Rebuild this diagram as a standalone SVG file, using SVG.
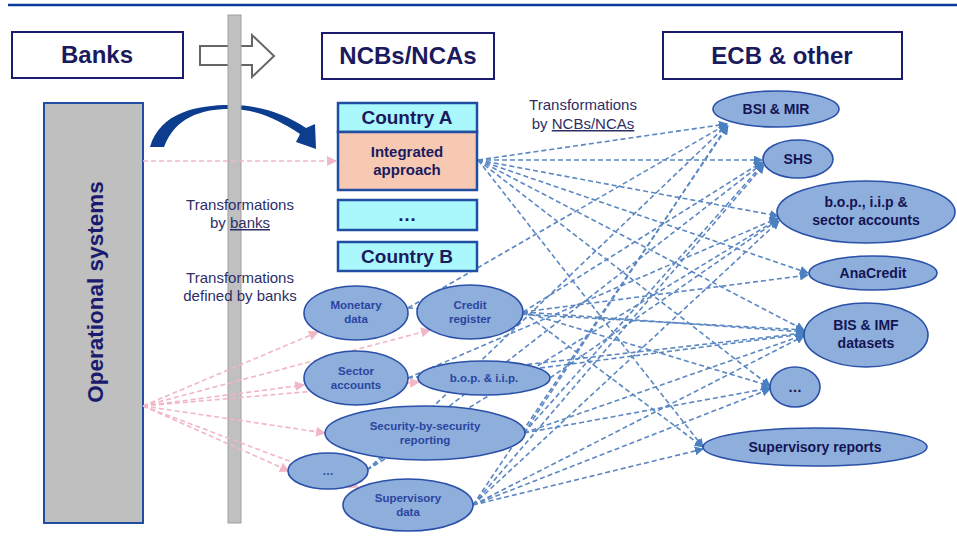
<svg xmlns="http://www.w3.org/2000/svg" width="957" height="538" viewBox="0 0 957 538">
<defs>
<marker id="ab" viewBox="0 0 10 10" refX="9" refY="5" markerWidth="9" markerHeight="9" markerUnits="userSpaceOnUse" orient="auto"><path d="M0,0 L10,5 L0,10 Z" fill="#4a7fc0"/></marker>
<marker id="ap" viewBox="0 0 10 10" refX="9" refY="5" markerWidth="10" markerHeight="10" markerUnits="userSpaceOnUse" orient="auto"><path d="M0,0 L10,5 L0,10 Z" fill="#f2b6c6"/></marker>
<style>
.hd{fill:#fff;stroke:#1a1a6e;stroke-width:2}
.ht{font-family:"Liberation Sans",Arial,sans-serif;font-weight:bold;font-size:24px;fill:#1a1a5e;text-anchor:middle}
.cb{fill:#aaf8fb;stroke:#1f4ea3;stroke-width:2.5}
.ct{font-family:"Liberation Sans",Arial,sans-serif;font-weight:bold;font-size:19px;fill:#1a1a5e;text-anchor:middle}
.el{fill:#8eaedb;stroke:#2a50a8;stroke-width:1.6}
.lt{font-family:"Liberation Sans",Arial,sans-serif;font-weight:bold;font-size:11.5px;fill:#2b45a0;text-anchor:middle}
.rt{font-family:"Liberation Sans",Arial,sans-serif;font-weight:bold;font-size:14px;fill:#141455;text-anchor:middle}
.tr{font-family:"Liberation Sans",Arial,sans-serif;font-size:15px;fill:#2e2e66;text-anchor:middle}
.bl{stroke:#5b87c2;stroke-width:1.6;stroke-dasharray:5 3;fill:none;marker-end:url(#ab)}
.pk{stroke:#f2b6c6;stroke-width:1.6;stroke-dasharray:5 3;fill:none;marker-end:url(#ap)}
</style>
</defs>
<rect width="957" height="538" fill="#fff"/>
<line x1="8" y1="5" x2="957" y2="5" stroke="#0b3b9b" stroke-width="2.5"/>

<g id="arrow-big">
<polygon points="200,46 252,46 252,35 274,56 252,77 252,65 200,65" fill="#fff" stroke="#666" stroke-width="2"/>
</g>
<g id="curved-arrow">
<path d="M150,147 C160,112 198,105 230,105 C260,105 285,114 306,128 L315,124 L316,149 L296,142 L300,134 C280,121 258,109 230,109 C200,109 175,118 164,147 Z" fill="#0d3d8f"/>
</g>
<g id="divider"><rect x="228" y="15" width="13" height="508" fill="#c0c0c0" stroke="#a0a0a0" stroke-width="1"/></g>

<g id="banks"><rect class="hd" x="12" y="32" width="171" height="46"/><text class="ht" x="97" y="63">Banks</text></g>
<g id="ncbs"><rect class="hd" x="322" y="33" width="172" height="46"/><text class="ht" x="408" y="64">NCBs/NCAs</text></g>
<g id="ecb"><rect class="hd" x="663" y="32" width="239" height="47"/><text class="ht" x="782" y="64">ECB &amp; other</text></g>

<g id="opsys"><rect x="44" y="103" width="99" height="420" fill="#bfbfbf" stroke="#1f4ea3" stroke-width="2"/>
<text transform="translate(103,292) rotate(-90)" font-family="Liberation Sans, Arial, sans-serif" font-weight="bold" font-size="22.5" fill="#1a1a6e" text-anchor="middle">Operational systems</text></g>

<g id="labels">
<text class="tr" x="240" y="210">Transformations</text>
<text class="tr" x="240" y="228">by <tspan text-decoration="underline">banks</tspan></text>
<text class="tr" x="240" y="283">Transformations</text>
<text class="tr" x="240" y="301">defined by banks</text>
<text class="tr" x="583" y="110">Transformations</text>
<text class="tr" x="583" y="129">by <tspan text-decoration="underline">NCBs/NCAs</tspan></text>
</g>

<g id="connectors">
<line class="pk" x1="143" y1="161" x2="336" y2="161"/>
<line class="pk" x1="143" y1="406" x2="318" y2="332"/>
<line class="pk" x1="143" y1="406" x2="430" y2="330"/>
<line class="pk" x1="143" y1="406" x2="304" y2="385"/>
<line class="pk" x1="143" y1="406" x2="419" y2="382"/>
<line class="pk" x1="143" y1="406" x2="325" y2="433"/>
<line class="pk" x1="143" y1="406" x2="289" y2="471"/>
<line class="pk" x1="143" y1="406" x2="358" y2="487"/>

<line class="bl" x1="478" y1="160" x2="727" y2="124"/>
<line class="bl" x1="478" y1="160" x2="762" y2="160"/>
<line class="bl" x1="478" y1="160" x2="778" y2="216"/>
<line class="bl" x1="478" y1="160" x2="808" y2="273"/>
<line class="bl" x1="478" y1="160" x2="804" y2="330"/>
<line class="bl" x1="478" y1="160" x2="770" y2="386"/>
<line class="bl" x1="478" y1="160" x2="703" y2="447"/>

<line class="bl" x1="408" y1="308" x2="727" y2="124"/>
<line class="bl" x1="408" y1="308" x2="804" y2="330"/>
<line class="bl" x1="523" y1="312" x2="762" y2="162"/>
<line class="bl" x1="523" y1="312" x2="808" y2="275"/>
<line class="bl" x1="523" y1="312" x2="804" y2="332"/>
<line class="bl" x1="523" y1="312" x2="770" y2="386"/>
<line class="bl" x1="523" y1="312" x2="703" y2="447"/>
<line class="bl" x1="408" y1="378" x2="778" y2="218"/>
<line class="bl" x1="408" y1="378" x2="804" y2="333"/>
<line class="bl" x1="550" y1="378" x2="778" y2="220"/>
<line class="bl" x1="540" y1="368" x2="804" y2="334"/>
<line class="bl" x1="524" y1="433" x2="727" y2="126"/>
<line class="bl" x1="524" y1="433" x2="763" y2="164"/>
<line class="bl" x1="524" y1="433" x2="770" y2="388"/>
<line class="bl" x1="524" y1="433" x2="804" y2="335"/>
<line class="bl" x1="367" y1="470" x2="727" y2="125"/>
<line class="bl" x1="367" y1="470" x2="763" y2="163"/>
<line class="bl" x1="367" y1="470" x2="778" y2="219"/>
<line class="bl" x1="473" y1="505" x2="728" y2="126"/>
<line class="bl" x1="473" y1="505" x2="764" y2="165"/>
<line class="bl" x1="473" y1="505" x2="779" y2="221"/>
<line class="bl" x1="473" y1="505" x2="804" y2="336"/>
<line class="bl" x1="473" y1="505" x2="770" y2="389"/>
<line class="bl" x1="473" y1="505" x2="703" y2="449"/>
</g>

<g id="country-a"><rect class="cb" x="338" y="103" width="139" height="29"/><text class="ct" x="407" y="124">Country A</text></g>
<g id="integrated"><rect x="338" y="132" width="139" height="58" fill="#f7c8b2" stroke="#1f4ea3" stroke-width="2.5"/>
<text x="407" y="157" font-family="Liberation Sans, Arial, sans-serif" font-weight="bold" font-size="15" fill="#1a1a5e" text-anchor="middle">Integrated</text>
<text x="407" y="175" font-family="Liberation Sans, Arial, sans-serif" font-weight="bold" font-size="15" fill="#1a1a5e" text-anchor="middle">approach</text></g>
<g id="country-dots"><rect class="cb" x="338" y="200" width="139" height="30"/><text class="ct" x="407" y="221">…</text></g>
<g id="country-b"><rect class="cb" x="338" y="242" width="139" height="29"/><text class="ct" x="407" y="263">Country B</text></g>

<g id="monetary"><ellipse class="el" cx="356" cy="313" rx="52" ry="27"/><text class="lt" x="356" y="309">Monetary</text><text class="lt" x="356" y="323">data</text></g>
<g id="credit"><ellipse class="el" cx="470" cy="312" rx="53" ry="27"/><text class="lt" x="470" y="309">Credit</text><text class="lt" x="470" y="323">register</text></g>
<g id="sector"><ellipse class="el" cx="356" cy="378" rx="52" ry="27"/><text class="lt" x="356" y="375">Sector</text><text class="lt" x="356" y="389">accounts</text></g>
<g id="bop"><ellipse class="el" cx="484" cy="378" rx="66" ry="17"/><text class="lt" x="484" y="382">b.o.p. &amp; i.i.p.</text></g>
<g id="sbs"><ellipse class="el" cx="425" cy="433" rx="100" ry="27"/><text class="lt" x="425" y="430">Security-by-security</text><text class="lt" x="425" y="444">reporting</text></g>
<g id="dots-left"><ellipse class="el" cx="328" cy="471" rx="40" ry="18"/><text class="lt" x="328" y="475" font-weight="normal">…</text></g>
<g id="supdata"><ellipse class="el" cx="408" cy="505" rx="65" ry="26"/><text class="lt" x="408" y="502">Supervisory</text><text class="lt" x="408" y="516">data</text></g>

<g id="bsi"><ellipse class="el" cx="776" cy="109" rx="63" ry="18"/><text class="rt" x="776" y="114">BSI &amp; MIR</text></g>
<g id="shs"><ellipse class="el" cx="798" cy="159" rx="35" ry="19"/><text class="rt" x="798" y="164">SHS</text></g>
<g id="bopsa"><ellipse class="el" cx="866" cy="212" rx="89" ry="31"/><text class="rt" x="866" y="207">b.o.p., i.i.p &amp;</text><text class="rt" x="866" y="225">sector accounts</text></g>
<g id="anacredit"><ellipse class="el" cx="873" cy="273" rx="64" ry="17"/><text class="rt" x="873" y="278">AnaCredit</text></g>
<g id="bisimf"><ellipse class="el" cx="866" cy="335" rx="62" ry="32"/><text class="rt" x="866" y="330">BIS &amp; IMF</text><text class="rt" x="866" y="348">datasets</text></g>
<g id="dots-right"><ellipse class="el" cx="795" cy="387" rx="25" ry="20"/><text class="rt" x="795" y="392">…</text></g>
<g id="suprep"><ellipse class="el" cx="815" cy="447" rx="112" ry="19"/><text class="rt" x="815" y="452">Supervisory reports</text></g>
</svg>
